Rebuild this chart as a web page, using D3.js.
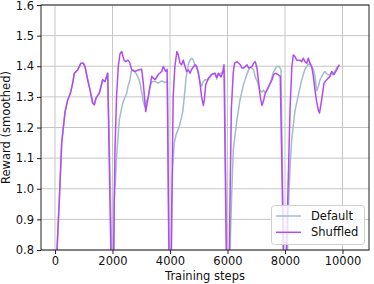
<!DOCTYPE html>
<html><head><meta charset="utf-8">
<script src="https://cdn.jsdelivr.net/npm/d3@7"></script>
<style>body{margin:0;background:#fff}text{font-family:"DejaVu Sans",sans-serif}</style></head>
<body><svg id="c" width="374" height="284"></svg>
<script>
const xTicks=[0,2000,4000,6000,8000,10000];
const yTicks=[0.8,0.9,1.0,1.1,1.2,1.3,1.4,1.5,1.6];
const seriesNames=["Default","Shuffled"];
const seriesColors=["#a3bccb","#b24cf2"];

// shared first phase (both runs identical)
const warmupSteps=[40,70,150,233,348,442,530,616,671,790,904,984,1043,1137,1217,1311,1367,1426,1541,1659,1739,1798,1833];
const warmupValues=[0.70,0.80,0.963,1.15,1.25,1.29,1.31,1.345,1.377,1.388,1.41,1.41,1.399,1.356,1.323,1.28,1.274,1.296,1.312,1.356,1.35,1.367,1.377];

const defaultSteps=[2030,2049,2061,2157,2237,2355,2494,2539,2609,2654,2723,2835,2946,3061,3120,3176,3245,3304,3374,3478,3593,3711,3826,3913,
3980,4040,4065,4094,4150,4209,4323,4442,4497,4556,4636,4696,4755,4810,4870,4928,4984,5043,5100,5158,5217,5332,5450,5565,5624,5680,5763,5833,5896,
6000,6060,6104,6146,6202,6320,6435,6556,6678,6783,6904,6974,7043,7113,7200,7252,7322,7426,7502,7593,7711,7791,7861,
7990,8060,8104,8180,8233,8348,8464,8580,8696,8812,8870,8986,9043,9100,9160,9217,9333,9391,9450,9565,9624,9680,9797,9890];
const defaultValues=[0.55,0.8,0.963,1.127,1.225,1.28,1.312,1.334,1.356,1.383,1.388,1.375,1.35,1.29,1.268,1.285,1.30,1.334,1.35,1.35,1.345,1.352,1.347,1.35,
0.55,0.65,0.95,1.072,1.15,1.176,1.203,1.25,1.30,1.36,1.405,1.42,1.426,1.42,1.405,1.395,1.375,1.35,1.335,1.35,1.356,1.356,1.373,1.377,1.358,1.373,1.377,1.383,1.385,
0.55,0.6,0.85,0.98,1.127,1.22,1.29,1.34,1.375,1.397,1.39,1.362,1.35,1.323,1.315,1.322,1.312,1.33,1.35,1.38,1.399,1.40,1.388,
0.55,0.6,0.9,1.08,1.16,1.255,1.306,1.355,1.39,1.407,1.405,1.39,1.367,1.32,1.334,1.356,1.377,1.383,1.375,1.37,1.378,1.372,1.394,1.405];

const shuffledSteps=[1990,2040,2087,2140,2202,2260,2320,2400,2460,2539,2600,2668,2783,2897,3015,3071,3155,3245,3363,3478,3593,3711,3767,3850,3900,
3990,4045,4110,4170,4240,4290,4348,4406,4464,4522,4580,4640,4697,4755,4870,4928,4986,5043,5100,5160,5195,5243,5333,5450,5565,5624,5680,5774,5833,5878,
5990,6063,6133,6200,6250,6330,6390,6445,6504,6563,6620,6678,6737,6850,6910,6967,7026,7085,7140,7200,7260,7315,7430,7490,7550,7607,7663,7757,7835,
7990,8052,8174,8240,8290,8348,8406,8522,8580,8638,8696,8755,8810,8870,8930,8986,9043,9100,9160,9200,9275,9357,9450,9565,9624,9704,9797,9890];
const shuffledValues=[0.55,0.80,1.13,1.30,1.40,1.44,1.448,1.42,1.415,1.42,1.412,1.388,1.383,1.388,1.39,1.345,1.252,1.30,1.367,1.356,1.373,1.383,1.399,1.383,1.39,
0.55,0.8,1.3,1.40,1.448,1.437,1.41,1.405,1.42,1.399,1.383,1.388,1.377,1.39,1.405,1.399,1.38,1.345,1.30,1.272,1.29,1.34,1.361,1.373,1.377,1.363,1.377,1.365,1.38,1.405,
0.55,0.8,1.257,1.38,1.41,1.415,1.41,1.405,1.394,1.394,1.399,1.405,1.394,1.399,1.41,1.415,1.394,1.345,1.30,1.272,1.29,1.312,1.334,1.345,1.356,1.373,1.377,1.373,1.367,
0.55,0.8,1.257,1.40,1.437,1.432,1.42,1.42,1.415,1.426,1.415,1.41,1.426,1.41,1.399,1.367,1.323,1.285,1.257,1.247,1.29,1.345,1.356,1.367,1.383,1.373,1.388,1.405];

const L=41,T=5,R=369,B=250;
const svg=d3.select("#c");
const x=d3.scaleLinear().domain([-487,10922]).range([L,R]);
const y=d3.scaleLinear().domain([0.8,1.6]).range([B,T]);

svg.append("defs").append("clipPath").attr("id","clip").append("rect")
  .attr("x",L).attr("y",T).attr("width",R-L).attr("height",B-T);

// grid
const g=svg.append("g");
g.selectAll(".vx").data(xTicks).join("line").attr("x1",d=>x(d)).attr("x2",d=>x(d)).attr("y1",T).attr("y2",B)
  .attr("stroke","#c6c6c6").attr("stroke-width",1);
g.selectAll(".hy").data(yTicks).join("line").attr("y1",d=>y(d)).attr("y2",d=>y(d)).attr("x1",L).attr("x2",R)
  .attr("stroke","#c6c6c6").attr("stroke-width",1);

function pts(steps,vals){return steps.map((s,i)=>[s,vals[i]]);}
const defData=pts(warmupSteps,warmupValues).concat(pts(defaultSteps,defaultValues));
const shData=pts(warmupSteps,warmupValues).concat(pts(shuffledSteps,shuffledValues));
const line=d3.line().x(d=>x(d[0])).y(d=>y(d[1]));
const lines=svg.append("g").attr("clip-path","url(#clip)");
lines.append("path").attr("d",line(defData)).attr("fill","none").attr("stroke",seriesColors[0]).attr("stroke-width",1.5).attr("stroke-linejoin","round");
lines.append("path").attr("d",line(shData)).attr("fill","none").attr("stroke",seriesColors[1]).attr("stroke-width",1.5).attr("stroke-linejoin","round");

// axes
const xa=svg.append("g").attr("transform",`translate(0,${B})`)
  .call(d3.axisBottom(x).tickValues(xTicks).tickFormat(d3.format("d")).tickSize(4).tickPadding(3));
const ya=svg.append("g").attr("transform",`translate(${L},0)`)
  .call(d3.axisLeft(y).tickValues(yTicks).tickFormat(d3.format(".1f")).tickSize(4).tickPadding(3));
[xa,ya].forEach(a=>{a.select(".domain").remove();a.selectAll("text").attr("font-size","11.5px").attr("fill","#111").style("font-family","DejaVu Sans");a.selectAll("line").attr("stroke","#222");});
ya.selectAll("text").filter(d=>d===1.6).attr("dy","0.36em");
svg.append("rect").attr("x",L).attr("y",T).attr("width",R-L).attr("height",B-T).attr("fill","none").attr("stroke","#222").attr("stroke-width",1);

svg.append("text").attr("x",(L+R)/2).attr("y",280).attr("text-anchor","middle").attr("font-size","11.5px").attr("fill","#111").text("Training steps");
svg.append("text").attr("transform",`translate(10,${(T+B)/2}) rotate(-90)`).attr("text-anchor","middle").attr("font-size","11.5px").attr("fill","#111").text("Reward (smoothed)");

// legend
const lg=svg.append("g");
lg.append("rect").attr("x",271.5).attr("y",205.5).attr("width",93).attr("height",39).attr("rx",3)
  .attr("fill","#fff").attr("fill-opacity",0.8).attr("stroke","#d0d0d0");
seriesNames.forEach((n,i)=>{
  const yy=216+i*16.3;
  lg.append("line").attr("x1",276).attr("x2",301).attr("y1",yy).attr("y2",yy).attr("stroke",seriesColors[i]).attr("stroke-width",1.5);
  lg.append("text").attr("x",311).attr("y",yy+4).attr("font-size","11.5px").attr("fill","#111").text(n);
});
</script></body></html>
